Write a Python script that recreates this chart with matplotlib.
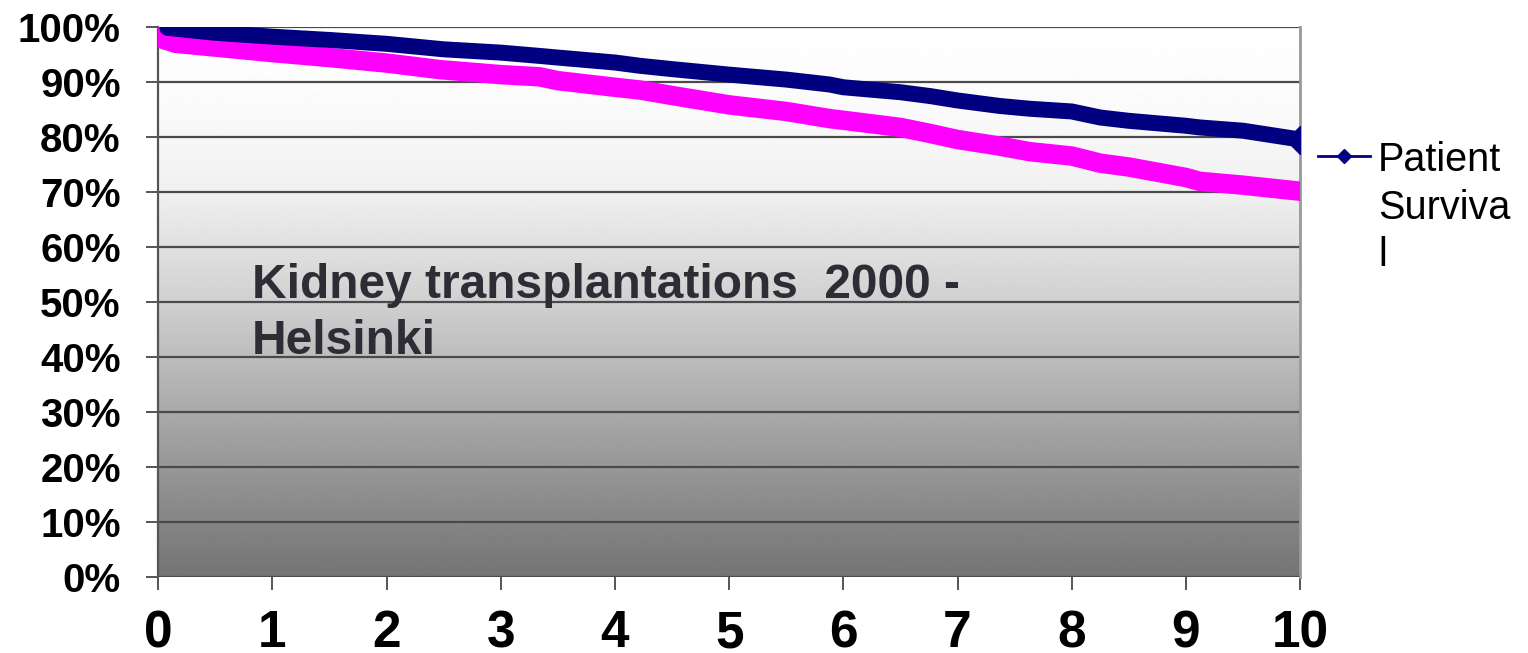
import matplotlib.pyplot as plt
import numpy as np
from matplotlib.lines import Line2D
from matplotlib.ticker import PercentFormatter, MultipleLocator

# Survival curves after kidney transplantation, years after transplant
patient_years = [0.08, 0.5, 1.0, 1.5, 2.0, 2.5, 3.0, 3.34, 3.5, 4.0, 4.22, 4.5, 5.0, 5.5, 5.88,
                 6.0, 6.5, 6.76, 7.0, 7.37, 7.63, 8.0, 8.25, 8.5, 9.0, 9.12, 9.5, 10.0]
patient_surv = [99.8, 98.9, 98.2, 97.6, 96.9, 95.9, 95.3, 94.7, 94.4, 93.5, 92.9, 92.3, 91.3, 90.4, 89.5,
                89.0, 88.1, 87.4, 86.6, 85.6, 85.1, 84.6, 83.5, 82.9, 82.0, 81.7, 81.1, 79.5]

graft_years = [0.0, 0.0, 0.03, 0.15, 1.0, 1.5, 2.0, 2.47, 3.0, 3.34, 3.5, 4.0, 4.22, 4.5, 5.0, 5.5, 5.88,
               6.0, 6.5, 6.76, 7.0, 7.37, 7.63, 8.0, 8.25, 8.5, 9.0, 9.12, 9.5, 10.0]
graft_surv = [100.0, 99.0, 97.8, 97.0, 95.3, 94.4, 93.4, 92.2, 91.3, 90.9, 90.2, 89.0, 88.5, 87.5, 85.8, 84.6, 83.3,
              83.0, 81.7, 80.6, 79.5, 78.3, 77.3, 76.5, 75.2, 74.5, 72.6, 71.9, 71.2, 70.1]

legend_label = "Patient\nSurviva\nl"
note_text = "Kidney transplantations  2000 -\nHelsinki"

navy = "#000080"
magenta = "#ff00ff"
text_dark = "#2d2d36"

plt.rcParams['font.family'] = ['Liberation Sans', 'DejaVu Sans']

fig = plt.figure(figsize=(15.28, 6.53), dpi=100)
ax = fig.add_axes([0.1036, 0.1168, 0.8508 - 0.1036, 0.959 - 0.1168])

# gray-to-white background gradient
stops_f = [0.0, 0.25, 0.5, 0.7, 0.85, 1.0]
stops_v = [116, 160, 208, 240, 250, 255]
rows = np.linspace(0, 1, 400)
shade = np.interp(rows, stops_f, stops_v) / 255.0
grad = np.repeat(shade[:, None], 2, axis=1)
ax.imshow(grad, cmap='gray', vmin=0, vmax=1, origin='lower', aspect='auto',
          extent=[0, 10, 0, 100], zorder=0, interpolation='bilinear')

ax.plot(graft_years, graft_surv, color=magenta, lw=14, solid_capstyle='projecting',
        solid_joinstyle='round', zorder=3)
ax.plot(patient_years, patient_surv, color=navy, lw=11.5, solid_capstyle='round',
        solid_joinstyle='round', zorder=4)
ax.plot(patient_years[-1:], patient_surv[-1:], color=navy, marker='D', ms=14, ls='none', zorder=4)

ax.set_xlim(0, 10)
ax.set_ylim(0, 100)
ax.xaxis.set_major_locator(MultipleLocator(1))
ax.yaxis.set_major_locator(MultipleLocator(10))
ax.yaxis.set_major_formatter(PercentFormatter(100, decimals=0))

ax.grid(axis='y', color='#4a4a4a', lw=1.6)
ax.set_axisbelow(True)
for side in ['top', 'bottom']:
    ax.spines[side].set_visible(False)
ax.spines['left'].set_color('#555555')
ax.spines['left'].set_linewidth(1.6)
ax.spines['right'].set_color('#999999')
ax.spines['right'].set_linewidth(2)

ax.tick_params(axis='y', length=9, width=1.4, color='#555555', pad=18, labelsize=29)
ax.tick_params(axis='x', length=9.5, width=1.4, color='#555555', pad=14, labelsize=37)
for lab in ax.get_xticklabels() + ax.get_yticklabels():
    lab.set_fontweight('bold')

ax.text(0.082, 0.571, note_text, transform=ax.transAxes, ha='left', va='top',
        fontsize=34.5, fontweight='bold', color=text_dark, linespacing=1.31, zorder=5)

# legend entry for the patient curve, handle level with the first text line
lx0, lx1, ly = 1318 / 1528, 1370 / 1528, 1 - 156 / 653
fig.add_artist(Line2D([lx0, lx1], [ly, ly], color=navy, lw=2, transform=fig.transFigure))
fig.add_artist(Line2D([(lx0 + lx1) / 2], [ly], color=navy, marker='D', ms=7, ls='none',
                      transform=fig.transFigure))
fig.text(1378 / 1528, 1 - 266 / 653, legend_label, ha='left', va='baseline',
         fontsize=28.5, linespacing=1.31, color='black')

fig.savefig("out.png", dpi=100)
